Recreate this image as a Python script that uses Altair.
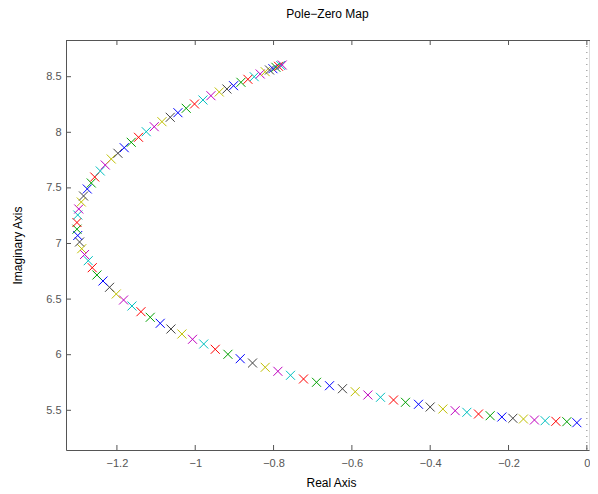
import altair as alt
import pandas as pd

# Pole locations (real, imaginary), in plotting order
re = [-0.0255, -0.0511, -0.0791, -0.1065, -0.1338, -0.1619, -0.1889, -0.2170, -0.2469, -0.2767,
      -0.3064, -0.3362, -0.3676, -0.4001, -0.4299, -0.4631, -0.4937, -0.5269, -0.5591, -0.5915,
      -0.6240, -0.6571, -0.6903, -0.7235, -0.7567, -0.7889, -0.8213, -0.8537, -0.8851, -0.9165,
      -0.9489, -0.9783, -1.0069, -1.0340, -1.0620, -1.0894, -1.1149, -1.1386, -1.1616, -1.1830,
      -1.2017, -1.2188, -1.2356, -1.2510, -1.2630, -1.2732, -1.2826, -1.2898, -1.2954, -1.3000,
      -1.3020, -1.3020, -1.3000, -1.2974, -1.2910, -1.2852, -1.2757, -1.2655, -1.2566, -1.2425,
      -1.2298, -1.2145, -1.1974, -1.1813, -1.1634, -1.1448, -1.1251, -1.1047, -1.0850, -1.0638,
      -1.0442, -1.0230, -1.0018, -0.9803, -0.9599, -0.9387, -0.9191, -0.9022, -0.8833, -0.8655,
      -0.8494, -0.8341, -0.8213, -0.8103, -0.8016, -0.7940, -0.7873, -0.7817, -0.7779]
im = [5.3885, 5.3975, 5.4011, 5.4065, 5.4128, 5.4218, 5.4281, 5.4398, 5.4514, 5.4667,
      5.4820, 5.4964, 5.5117, 5.5297, 5.5540, 5.5719, 5.5926, 5.6169, 5.6376, 5.6673,
      5.6942, 5.7212, 5.7518, 5.7815, 5.8147, 5.8507, 5.8867, 5.9254, 5.9640, 6.0036,
      6.0486, 6.0962, 6.1385, 6.1862, 6.2311, 6.2824, 6.3363, 6.3867, 6.4379, 6.4919,
      6.5459, 6.6061, 6.6628, 6.7167, 6.7824, 6.8453, 6.9011, 6.9532, 7.0135, 7.0719,
      7.1286, 7.1888, 7.2563, 7.3103, 7.3732, 7.4272, 7.4901, 7.5441, 7.5980, 7.6520,
      7.7059, 7.7599, 7.8112, 7.8615, 7.9101, 7.9550, 8.0054, 8.0504, 8.0953, 8.1349,
      8.1763, 8.2158, 8.2545, 8.2905, 8.3291, 8.3624, 8.3894, 8.4191, 8.4496, 8.4766,
      8.5000, 8.5243, 8.5450, 8.5603, 8.5719, 8.5845, 8.5935, 8.6007, 8.6052]

color_order = ["b", "g", "r", "c", "m", "y", "k"]
color_values = ["#0000ff", "#00a000", "#ff0000", "#00bfbf", "#bf00bf", "#bfbf00", "#404040"]

x_ticks = [-1.2, -1.0, -0.8, -0.6, -0.4, -0.2, 0.0]
y_ticks = [5.5, 6.0, 6.5, 7.0, 7.5, 8.0, 8.5]
zero_re = [0.0]

X_DOMAIN = [-1.33, 0.0055]
Y_DOMAIN = [5.143, 8.83]
W, H = 523, 410
AXIS_GRAY = "#555555"
FONT = "Liberation Sans"

poles = pd.DataFrame({
    "re": re,
    "im": im,
    "c": [color_order[i % 7] for i in range(len(re))],
    "i": list(range(len(re))),
})
xt = pd.DataFrame({"re": x_ticks})
yt = pd.DataFrame({"im": y_ticks})
zr = pd.DataFrame({"re": zero_re})

xscale = alt.Scale(domain=X_DOMAIN, nice=False, zero=False)
yscale = alt.Scale(domain=Y_DOMAIN, nice=False, zero=False)

x_axis = alt.Axis(
    values=x_ticks, format="~g", grid=False, ticks=False, tickSize=0,
    domainColor=AXIS_GRAY, domainWidth=1,
    labelColor=AXIS_GRAY, labelFont=FONT, labelFontSize=11, labelPadding=7,
    title="Real Axis", titleFont=FONT, titleFontSize=12, titleFontWeight="normal",
    titleColor="#000000", titleX=265, titleY=32, titleBaseline="middle", titleAlign="center",
)
y_axis = alt.Axis(
    values=y_ticks, format="~g", grid=False, ticks=False, tickSize=0,
    domainColor=AXIS_GRAY, domainWidth=1,
    labelColor=AXIS_GRAY, labelFont=FONT, labelFontSize=11, labelPadding=5,
    title="Imaginary Axis", titleFont=FONT, titleFontSize=12, titleFontWeight="normal",
    titleColor="#000000", titleX=-49, titleY=205, titleBaseline="middle", titleAlign="center",
    titleAngle=-90,
)

X = lambda: alt.X("re:Q", scale=xscale, axis=x_axis)
Y = lambda: alt.Y("im:Q", scale=yscale, axis=y_axis)

cross = "M-1,-1L1,1M-1,1L1,-1"

points = alt.Chart(poles).mark_point(
    shape=cross, filled=False, size=81, strokeWidth=1, opacity=1
).encode(
    x=X(),
    y=Y(),
    color=alt.Color("c:N", scale=alt.Scale(domain=color_order, range=color_values), legend=None),
    order=alt.Order("i:Q"),
)

# dotted line along the imaginary axis (real = 0)
zero_line = alt.Chart(zr).mark_rule(
    color="#808080", strokeDash=[1, 5], strokeWidth=1
).encode(x=X(), y=alt.value(0), y2=alt.value(H))

# top frame line
top_line = alt.Chart(zr).mark_rule(color=AXIS_GRAY, strokeWidth=1).encode(
    x=alt.value(0), x2=alt.value(W + 10), y=alt.value(0.5))

# inward tick marks
bottom_ticks = alt.Chart(xt).mark_rule(color=AXIS_GRAY, strokeWidth=1).encode(
    x=X(), y=alt.value(H), y2=alt.value(H - 5))
top_ticks = alt.Chart(xt).mark_rule(color=AXIS_GRAY, strokeWidth=1).encode(
    x=X(), y=alt.value(0), y2=alt.value(5))
left_ticks = alt.Chart(yt).mark_rule(color=AXIS_GRAY, strokeWidth=1).encode(
    y=Y(), x=alt.value(0), x2=alt.value(5))

chart = alt.layer(
    points, zero_line, top_line, bottom_ticks, top_ticks, left_ticks
).properties(
    width=W, height=H,
    title=alt.TitleParams(
        "Pole\u2212Zero Map", anchor="middle", font=FONT, fontSize=12,
        fontWeight="normal", color="#000000", offset=19, dx=0,
    ),
    autosize=alt.AutoSizeParams(type="none"),
    padding={"left": 58, "top": 32, "right": 1, "bottom": 44},
).configure_view(
    stroke=None
).configure(
    background="#ffffff"
)

chart.save("out.html", embed_options={"renderer": "svg", "actions": False})
